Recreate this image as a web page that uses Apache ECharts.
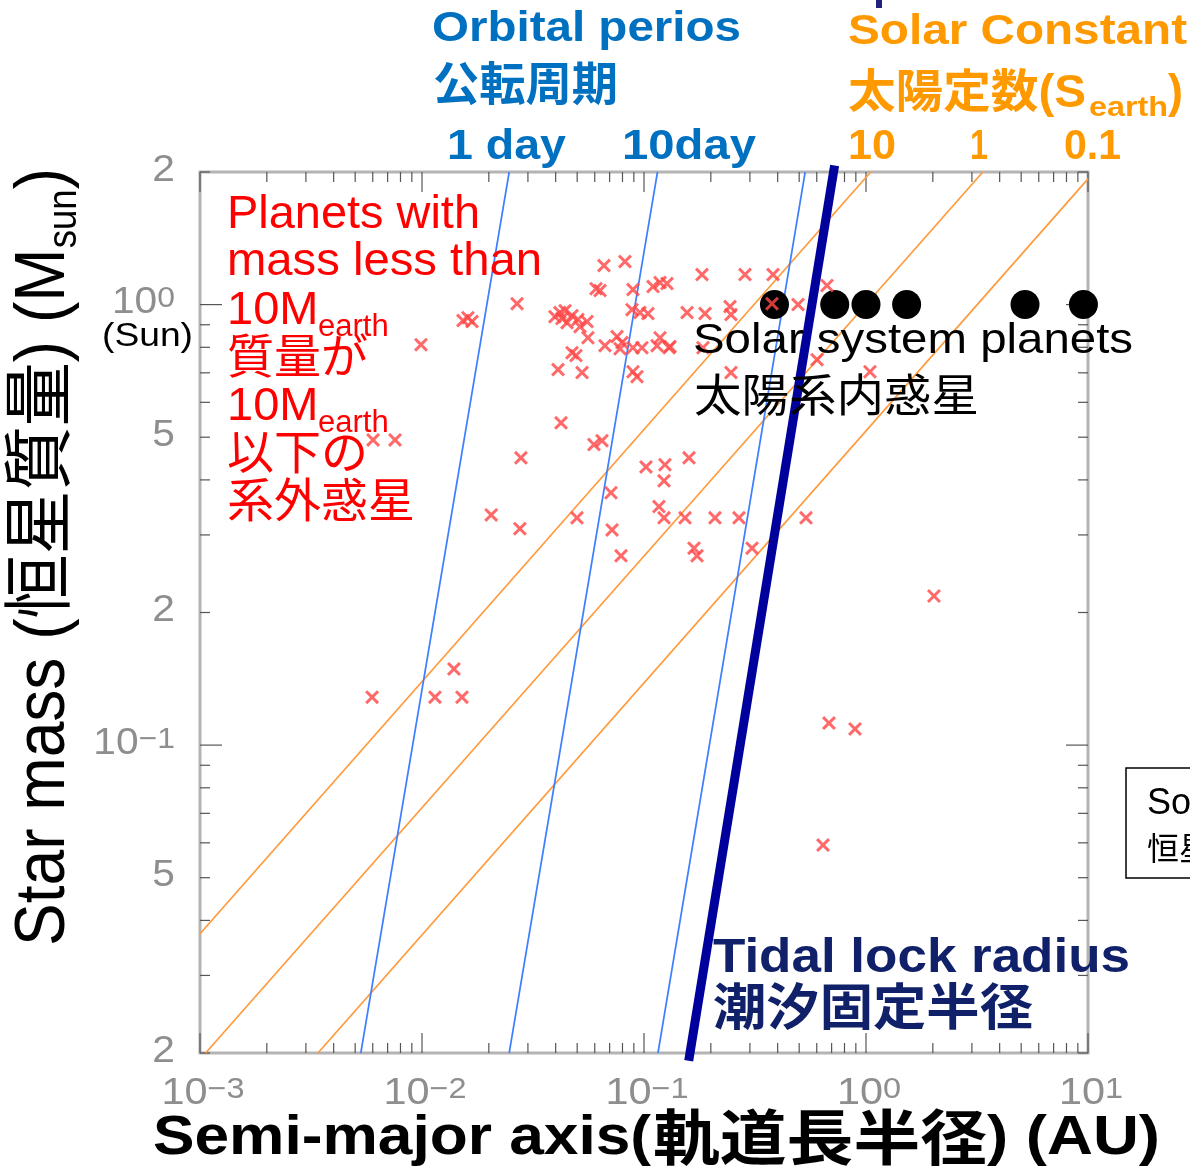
<!DOCTYPE html>
<html><head><meta charset="utf-8">
<script src="https://cdn.jsdelivr.net/npm/echarts@6/dist/echarts.min.js"></script>
<style>html,body{margin:0;padding:0;background:#fff}#c{width:1190px;height:1176px}</style>
</head><body><div id="c"></div>
<script>
// ---------------- data ----------------
const X_MIN = 0.001, X_MAX = 10, Y_MIN = 0.02, Y_MAX = 2;
const xTickLabels = [0.001, 0.01, 0.1, 1, 10];
const yTickLabels = [2, 1, 0.5, 0.2, 0.1, 0.05, 0.02];
const yMajorTicks = [1, 0.1];

// exoplanets (< 10 Earth masses): [semi-major axis AU, star mass Msun]
const exoplanets = [
 [0.00990,0.811],
 [0.0153,0.920],[0.0161,0.934],[0.0168,0.915],
 [0.0268,1.005],
 [0.00602,0.493],[0.00756,0.493],
 [0.00596,0.1285],[0.01144,0.1285],[0.01514,0.1285],[0.01393,0.1489],
 [0.0660,1.226],[0.0821,1.252],
 [0.0608,1.087],[0.0634,1.076],
 [0.0892,1.082],
 [0.1098,1.099],[0.1181,1.122],[0.1269,1.116],
 [0.1825,1.170],[0.2851,1.170],[0.3813,1.170],
 [0.6674,1.105],
 [0.0397,0.939],[0.0418,0.959],[0.0441,0.969],[0.0474,0.944],[0.0504,0.925],[0.0554,0.915],[0.0450,0.910],[0.0515,0.891],[0.0427,0.930],
 [0.0559,0.841],
 [0.0474,0.778],[0.0494,0.766],
 [0.0410,0.712],[0.0526,0.701],
 [0.0667,0.807],[0.0756,0.846],[0.0796,0.820],[0.0780,0.794],
 [0.0892,0.798],[0.0979,0.798],
 [0.0883,0.974],[0.0959,0.959],[0.1042,0.954],
 [0.1145,0.807],[0.1181,0.841],[0.1310,0.803],
 [0.1563,0.959],[0.1883,0.954],[0.2440,0.990],[0.2465,0.949],[0.3773,1.005],[0.4941,1.0],
 [0.0892,0.704],[0.0930,0.686],
 [0.1297,0.798],[0.1844,0.798],[0.2465,0.701],[0.6018,0.750],[1.042,0.704],
 [0.0423,0.539],
 [0.0595,0.481],[0.0647,0.491],
 [0.0279,0.449],
 [0.1021,0.428],[0.1243,0.433],[0.1595,0.449],[0.1231,0.398],
 [0.0710,0.374],
 [0.0205,0.333],[0.0276,0.310],[0.0499,0.328],[0.0718,0.308],[0.0788,0.269],
 [0.1168,0.348],[0.1231,0.328],[0.1530,0.328],[0.2088,0.328],[0.2679,0.328],[0.5367,0.328],
 [0.1680,0.280],[0.1733,0.269],[0.3066,0.280],
 [2.024,0.218],
 [0.6813,0.1122],[0.8923,0.1088],[0.6402,0.0593]
];
const solarPlanetAxis = [0.387, 0.723, 1.0, 1.524, 5.203, 9.537];
const solarPlanetMass = [1, 1, 1, 1, 1, 1];

// straight lines (log-log), endpoints
const period1day   = [[0.0053, 0.02], [0.0247, 2]];
const period10day  = [[0.0247, 0.02], [0.1150, 2]];
const period100day = [[0.1156, 0.02], [0.532, 2]];
const solarConst10  = [[0.001, 0.0373], [1.05, 2]];
const solarConst1   = [[0.00106, 0.02], [3.36, 2]];
const solarConst01  = [[0.0034, 0.02], [10, 1.93]];
const tidalLock     = [[0.159, 0.0192], [0.722, 2.07]];

// ---------------- helpers ----------------
const FONT = '"Liberation Sans", Arial, "Noto Sans CJK JP", sans-serif';
const mctx = document.createElement('canvas').getContext('2d');
function measure(str, size, weight) {
  mctx.font = (weight || 'normal') + ' ' + size + 'px ' + FONT;
  return mctx.measureText(str).width;
}
function label(str, left, midY, size, weight, color, targetW) {
  const w = measure(str, size, weight);
  return { type: 'text', x: left, y: midY, z: 100, scaleX: targetW ? targetW / w : 1,
    style: { text: str, fontSize: size, fontWeight: weight || 'normal', fontFamily: FONT,
             fill: color, align: 'left', verticalAlign: 'middle' } };
}
const BLUE = '#0070c0', ORANGE = '#ff9900', NAVY = '#10216a', RED = '#ff0000';

// ticks
const xTicks = [], yTicks = [];
for (let d = X_MIN; d < X_MAX * 1.01; d *= 10) {
  xTicks.push({ v: d, major: true });
  if (d < X_MAX * 0.99) for (let k = 2; k <= 9; k++) xTicks.push({ v: d * k, major: false });
}
for (const d of [0.01, 0.1, 1]) {
  for (let k = 1; k <= 9; k++) {
    const v = d * k;
    if (v < Y_MIN * 0.999 || v > Y_MAX * 1.001) continue;
    yTicks.push({ v: v, major: yMajorTicks.some(m => Math.abs(m - v) < 1e-9) });
  }
}
const TICK = '#555';
const LABEL_GREY = '#8e8e8e';
const richLbl = {
  b: { fontSize: 37, lineHeight: 40, verticalAlign: 'top', fontFamily: FONT, fill: LABEL_GREY },
  s: { fontSize: 29, lineHeight: 30, verticalAlign: 'top', fontFamily: FONT, fill: LABEL_GREY }
};
function tickText(v) {
  const e = Math.log10(v), r = Math.round(e);
  if (Math.abs(e - r) < 1e-6) return '{b|10}{s|' + (r < 0 ? '\u2212' + (-r) : r) + '}';
  return '{b|' + Math.round(v / Math.pow(10, Math.floor(e + 1e-9))) + '}';
}

const xTickSeries = {
  type: 'custom', coordinateSystem: 'cartesian2d', silent: true, z: 1, clip: false,
  data: xTicks.map(t => [t.v, 1]),
  renderItem: (params, api) => {
    const t = xTicks[params.dataIndex];
    const b = api.coord([t.v, Y_MIN]), tp = api.coord([t.v, Y_MAX]);
    const len = t.major ? 20 : 10;
    return { type: 'group', children: [
      { type: 'line', shape: { x1: b[0], y1: b[1], x2: b[0], y2: b[1] - len }, style: { stroke: TICK, lineWidth: 1.2 } },
      { type: 'line', shape: { x1: tp[0], y1: tp[1], x2: tp[0], y2: tp[1] + len }, style: { stroke: TICK, lineWidth: 1.2 } }
    ] };
  }
};
const yTickSeries = {
  type: 'custom', coordinateSystem: 'cartesian2d', silent: true, z: 1, clip: false,
  data: yTicks.map(t => [1, t.v]),
  renderItem: (params, api) => {
    const t = yTicks[params.dataIndex];
    const l = api.coord([X_MIN, t.v]), r = api.coord([X_MAX, t.v]);
    const len = t.major ? 22 : 10;
    return { type: 'group', children: [
      { type: 'line', shape: { x1: l[0], y1: l[1], x2: l[0] + len, y2: l[1] }, style: { stroke: TICK, lineWidth: 1.2 } },
      { type: 'line', shape: { x1: r[0], y1: r[1], x2: r[0] - len, y2: r[1] }, style: { stroke: TICK, lineWidth: 1.2 } }
    ] };
  }
};
const xLabelSeries = {
  type: 'custom', coordinateSystem: 'cartesian2d', silent: true, z: 6, clip: false,
  data: xTickLabels.map(v => [v, 1]),
  renderItem: (params, api) => {
    const v = xTickLabels[params.dataIndex];
    const p = api.coord([v, Y_MIN]);
    return { type: 'text', x: p[0] + 3, y: p[1] + 22, scaleX: 1.12,
      style: { text: tickText(v), rich: richLbl, align: 'center', verticalAlign: 'top' } };
  }
};
const yLabelSeries = {
  type: 'custom', coordinateSystem: 'cartesian2d', silent: true, z: 6, clip: false,
  data: yTickLabels.map(v => [1, v]),
  renderItem: (params, api) => {
    const v = yTickLabels[params.dataIndex];
    const p = api.coord([X_MIN, v]);
    return { type: 'text', x: p[0] - 25, y: p[1], scaleX: 1.1,
      style: { text: tickText(v), rich: richLbl, align: 'right', verticalAlign: 'middle' } };
  }
};

function lineSeries(name, pts, color, width, clip, z) {
  return { type: 'line', name: name, data: pts, symbol: 'none', silent: true, clip: clip, z: z,
    lineStyle: { color: color, width: width, opacity: 1 }, animation: false };
}

// ---------------- y axis title (rotated) ----------------
const YT_F = 70, YT_FS = 40;
const ytMain = 'Star mass (\u6052\u661f\u8cea\u91cf) (M';
const yw1 = measure(ytMain, YT_F), yw2 = measure('sun', YT_FS), yw3 = measure(')', YT_F);
const ytScale = 778 / (yw1 + yw2 + yw3);
function ytText(str, x, y, size) {
  return { type: 'text', x: x, y: y, z: 100,
    style: { text: str, fontSize: size, fontFamily: FONT, fill: '#000', align: 'left', verticalAlign: 'middle' } };
}
const yTitle = { type: 'group', x: 69, y: 946, rotation: Math.PI / 2, scaleX: ytScale, z: 100, children: [
  ytText(ytMain, 0, -0.3465 * YT_F, YT_F),
  ytText('sun', yw1, 10 - 0.3465 * YT_FS, YT_FS),
  ytText(')', yw1 + yw2, -0.3465 * YT_F, YT_F)
] };

const graphics = [
  // header: orbital period
  label('Orbital perios', 432, 29.5, 42, 'bold', BLUE, 309),
  label('\u516c\u8ee2\u5468\u671f', 433, 87.5, 46, 'bold', BLUE, 185),
  label('1 day', 447, 147.4, 42, 'bold', BLUE, 119),
  label('10day', 622, 147.4, 42, 'bold', BLUE, 134),
  // header: solar constant
  label('Solar Constant', 848, 32.4, 42, 'bold', ORANGE, 339),
  label('\u592a\u967d\u5b9a\u6570(S', 848, 94, 46, 'bold', ORANGE, 238),
  label('earth', 1089, 108.3, 28, 'bold', ORANGE, 79),
  label(')', 1168, 94, 46, 'bold', ORANGE, 15),
  label('10', 848, 147.4, 42, 'bold', ORANGE, 48),
  label('1', 970, 147.4, 42, 'bold', ORANGE, 18),
  label('0.1', 1064, 147.4, 42, 'bold', ORANGE, 57),
  // tidal lock
  label('Tidal lock radius', 713, 958.4, 48, 'bold', NAVY, 417),
  label('\u6f6e\u6c50\u56fa\u5b9a\u534a\u5f84', 713, 1011.7, 50, 'bold', NAVY, 320),
  // x axis title
  label('Semi-major axis(', 153, 1138.6, 56, 'bold', '#000', 498),
  label('\u8ecc\u9053\u9577\u534a\u5f84', 653, 1143, 60, 'bold', '#000', 334),
  label(') (AU)', 987, 1138.6, 56, 'bold', '#000', 173),
  // solar system annotation
  label('Solar system planets', 693, 341, 43, 'normal', '#000', 440),
  label('\u592a\u967d\u7cfb\u5185\u60d1\u661f', 694, 399.6, 45, 'normal', '#000', 285),
  label('(Sun)', 102, 337, 34, 'normal', '#000', 91),
  // red annotation
  label('Planets with', 227, 214.7, 47, 'normal', RED, 253),
  label('mass less than', 227, 261.7, 47, 'normal', RED, 315),
  label('10M', 227, 310.7, 47, 'normal', RED, null),
  label('earth', 318, 327.3, 31, 'normal', RED, null),
  label('\u8cea\u91cf\u304c', 227, 359.6, 47, 'normal', RED, null),
  label('10M', 227, 406.7, 47, 'normal', RED, null),
  label('earth', 318, 423.3, 31, 'normal', RED, null),
  label('\u4ee5\u4e0b\u306e', 227, 455.6, 47, 'normal', RED, null),
  label('\u7cfb\u5916\u60d1\u661f', 227, 503.6, 47, 'normal', RED, null),
  yTitle,
  // cropped legend box at right edge and cropped mark at top
  { type: 'rect', shape: { x: 1126, y: 768, width: 120, height: 110 }, z: 99,
    style: { fill: '#fff', stroke: '#000', lineWidth: 1.5 } },
  label('Solar', 1147, 804.5, 36, 'normal', '#000', null),
  label('\u6052\u661f', 1147, 851, 32, 'normal', '#000', null),
  { type: 'rect', shape: { x: 876, y: 0, width: 6, height: 8 }, z: 99, style: { fill: '#22227a' } }
];

const chart = echarts.init(document.getElementById('c'), null, { renderer: 'canvas' });
chart.setOption({
  animation: false,
  backgroundColor: '#fff',
  grid: { left: 200, top: 172, width: 888, height: 881, show: true, borderColor: '#b4b4b4', borderWidth: 3,
          backgroundColor: 'transparent', containLabel: false, outerBoundsMode: 'none' },
  xAxis: { type: 'log', logBase: 10, min: X_MIN, max: X_MAX,
           axisLine: { show: false }, axisTick: { show: false }, axisLabel: { show: false }, splitLine: { show: false } },
  yAxis: { type: 'log', logBase: 10, min: Y_MIN, max: Y_MAX,
           axisLine: { show: false }, axisTick: { show: false }, axisLabel: { show: false }, splitLine: { show: false } },
  series: [
    lineSeries('S=10', solarConst10, '#ff9a3c', 1.7, true, 2),
    lineSeries('S=1', solarConst1, '#ff9a3c', 1.7, true, 2),
    lineSeries('S=0.1', solarConst01, '#ff9a3c', 1.7, true, 2),
    lineSeries('1 day', period1day, '#3d7fff', 1.7, true, 3),
    lineSeries('10 day', period10day, '#3d7fff', 1.7, true, 3),
    lineSeries('100 day', period100day, '#3d7fff', 1.7, true, 3),
    lineSeries('Tidal lock', tidalLock, '#00009c', 9, false, 4),
    { type: 'scatter', name: 'Solar system', silent: true, clip: true, z: 5,
      data: solarPlanetAxis.map((a, i) => [a, solarPlanetMass[i]]),
      symbol: 'circle', symbolSize: 29, itemStyle: { color: '#000', opacity: 1 } },
    { type: 'scatter', name: 'Exoplanets', silent: true, clip: true, z: 6,
      data: exoplanets,
      symbol: 'path://M0,1.5L1.5,0L5,3.5L8.5,0L10,1.5L6.5,5L10,8.5L8.5,10L5,6.5L1.5,10L0,8.5L3.5,5Z',
      symbolSize: 14, itemStyle: { color: '#ff4848', opacity: 0.82 } },
    xTickSeries, yTickSeries, xLabelSeries, yLabelSeries
  ],
  graphic: graphics
});
</script></body></html>
